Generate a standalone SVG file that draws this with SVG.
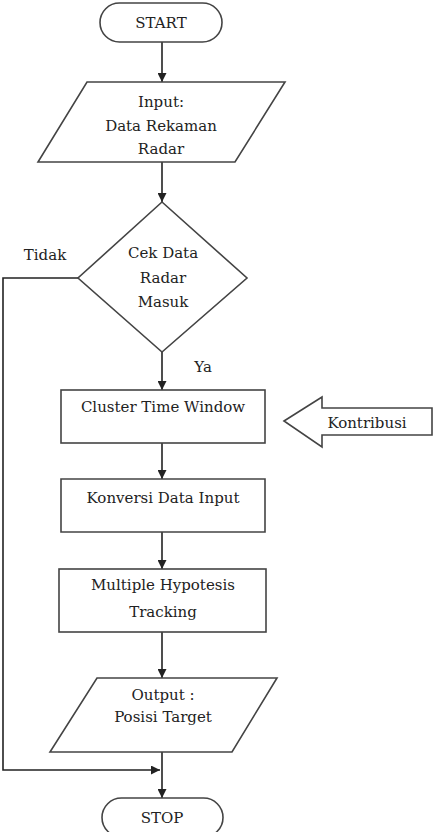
<svg xmlns="http://www.w3.org/2000/svg" width="445" height="832" viewBox="0 0 445 832">
<defs>
<marker id="ah" viewBox="0 0 10 10" refX="10" refY="5" markerWidth="9" markerHeight="9" markerUnits="userSpaceOnUse" orient="auto">
<path d="M0,0 L10,5 L0,10 z" fill="#222"/>
</marker>
<style>
.s{fill:#fff;stroke:#444;stroke-width:1.6}
.c{fill:none;stroke:#222;stroke-width:1.6;marker-end:url(#ah)}
text{font-family:"DejaVu Serif","Times New Roman",serif;font-size:15px;fill:#222;text-anchor:middle}
</style>
</defs>
<rect width="445" height="832" fill="#fff"/>
<g id="connectors">
<line class="c" x1="162" y1="42" x2="162" y2="82"/>
<line class="c" x1="162" y1="162" x2="162" y2="202"/>
<line class="c" x1="162" y1="352" x2="162" y2="390"/>
<line class="c" x1="162" y1="443" x2="162" y2="479"/>
<line class="c" x1="162" y1="532" x2="162" y2="569"/>
<line class="c" x1="162" y1="632" x2="162" y2="678"/>
<line class="c" x1="162" y1="752" x2="162" y2="798"/>
<polyline class="c" points="78,278 3,278 3,770 160,770"/>
</g>
<g id="start">
<rect class="s" x="100" y="3" width="122" height="39" rx="19.5"/>
<text x="161" y="28">START</text>
</g>
<g id="input">
<polygon class="s" points="87,82 285,82 235,162 38,162"/>
<text x="161" y="107">Input:</text>
<text x="161" y="131">Data Rekaman</text>
<text x="161" y="154">Radar</text>
</g>
<g id="decision">
<polygon class="s" points="162,202 247,278 162,352 78,278"/>
<text x="163" y="258">Cek Data</text>
<text x="163" y="283">Radar</text>
<text x="163" y="307">Masuk</text>
</g>
<g id="label-tidak"><text x="45" y="260">Tidak</text></g>
<g id="label-ya"><text x="203" y="372">Ya</text></g>
<g id="cluster">
<rect class="s" x="61" y="390" width="204" height="53"/>
<text x="163" y="412">Cluster Time Window</text>
</g>
<g id="kontribusi">
<polygon class="s" points="284,421 322,397 322,408 432,408 432,435 322,435 322,447"/>
<text x="367" y="428">Kontribusi</text>
</g>
<g id="konversi">
<polygon class="s" points="61,479 265,479 265,532 61,532"/>
<text x="163" y="503">Konversi Data Input</text>
</g>
<g id="mht">
<rect class="s" x="59" y="569" width="207" height="63"/>
<text x="163" y="590">Multiple Hypotesis</text>
<text x="163" y="617">Tracking</text>
</g>
<g id="output">
<polygon class="s" points="97,678 277,678 232,752 50,752"/>
<text x="163" y="700">Output :</text>
<text x="163" y="722">Posisi Target</text>
</g>
<g id="stop">
<rect class="s" x="102" y="798" width="121" height="39" rx="19.5"/>
<text x="162" y="823">STOP</text>
</g>
</svg>
